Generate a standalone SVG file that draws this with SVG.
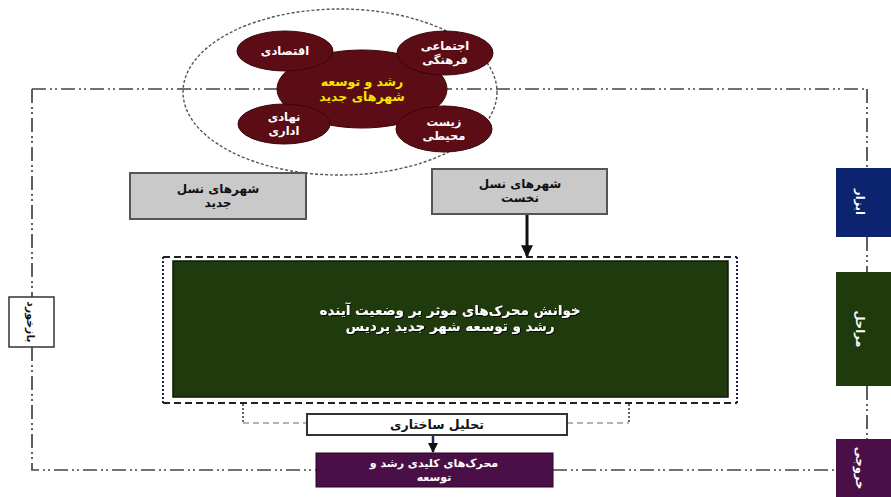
<svg xmlns="http://www.w3.org/2000/svg" width="891" height="497" viewBox="0 0 891 497">
<style>
.fa{font-family:"DejaVu Sans",sans-serif;font-weight:bold;text-anchor:middle;direction:rtl}
.ddot{fill:none;stroke:#444;stroke-width:1.7;stroke-dasharray:14 4 2 3 2 4}
.maroon{fill:#5c0c14;stroke:#3a0508;stroke-width:1}
.wt{fill:#fff;font-size:11.5px}
.gray{fill:#c9c9c9;stroke:#555;stroke-width:2}
.bt{fill:#111;font-size:12px}
</style>
<defs>
<marker id="ah" viewBox="0 0 10 10" refX="9" refY="5" markerWidth="4" markerHeight="4" orient="auto"><path d="M0,0 L10,5 L0,10 z" fill="#111"/></marker>
<filter id="sh" x="-5%" y="-20%" width="110%" height="140%"><feDropShadow dx="1" dy="1" stdDeviation="0.6" flood-color="#000" flood-opacity="0.9"/></filter>
</defs>
<rect width="891" height="497" fill="#fff"/>
<g id="connectors">
<path class="ddot" d="M32,89 H867"/>
<path class="ddot" d="M32,89 V297 M32,347 V470 H316 M553,470 H836"/>
<path class="ddot" d="M867,89 V168 M867,237 V272 M867,386 V439"/>
<path d="M527,214 V256" stroke="#111" stroke-width="3" marker-end="url(#ah)"/>
<path d="M243,404 V423" stroke="#333" stroke-width="1.5" stroke-dasharray="2 2" fill="none"/>
<path d="M243,423 H307" stroke="#999" stroke-width="1.5" stroke-dasharray="6 4" fill="none"/>
<path d="M629,404 V423" stroke="#333" stroke-width="1.5" stroke-dasharray="2 2" fill="none"/>
<path d="M567,423 H629" stroke="#999" stroke-width="1.5" stroke-dasharray="6 4" fill="none"/>
<path d="M433,435 V452" stroke="#1a2a55" stroke-width="2.5" marker-end="url(#ah)"/>
</g>
<g id="cluster">
<ellipse cx="340" cy="92" rx="157" ry="83" fill="none" stroke="#555" stroke-width="1.4" stroke-dasharray="3 2"/>
<ellipse class="maroon" cx="362" cy="89" rx="85" ry="39"/>
<text class="fa" x="362" y="86" font-size="12.5" fill="#f4e800">رشد و توسعه</text>
<text class="fa" x="362" y="101" font-size="12.5" fill="#f4e800">شهرهای جدید</text>
</g>
<g id="n-eqtesadi">
<ellipse class="maroon" cx="285" cy="51" rx="48" ry="20"/>
<text class="fa wt" x="285" y="55">اقتصادی</text>
</g>
<g id="n-ejtemaei">
<ellipse class="maroon" cx="445" cy="53" rx="48" ry="22"/>
<text class="fa wt" x="445" y="50">اجتماعی</text>
<text class="fa wt" x="445" y="64">فرهنگی</text>
</g>
<g id="n-nahadi">
<ellipse class="maroon" cx="284" cy="124" rx="46" ry="20"/>
<text class="fa wt" x="284" y="121">نهادی</text>
<text class="fa wt" x="284" y="135">اداری</text>
</g>
<g id="n-zist">
<ellipse class="maroon" cx="444" cy="129" rx="48" ry="23"/>
<text class="fa wt" x="444" y="126">زیست</text>
<text class="fa wt" x="444" y="140">محیطی</text>
</g>
<g id="n-jadid">
<rect class="gray" x="130" y="173" width="176" height="46"/>
<text class="fa bt" x="218" y="193">شهرهای نسل</text>
<text class="fa bt" x="218" y="207">جدید</text>
</g>
<g id="n-nokhost">
<rect class="gray" x="432" y="169" width="175" height="45"/>
<text class="fa bt" x="520" y="188">شهرهای نسل</text>
<text class="fa bt" x="520" y="202">نخست</text>
</g>
<g id="n-khanesh">
<path d="M163,257 H737 M163,403 H737" stroke="#222" stroke-width="1.8" stroke-dasharray="7 4" fill="none"/>
<path d="M163,257 V403 M737,257 V403" stroke="#1d2450" stroke-width="2" stroke-dasharray="2 2" fill="none"/>
<rect x="173" y="261" width="555" height="136" fill="#1f3a0c" stroke="#0c1a04" stroke-width="1.5"/>
<text class="fa" x="450" y="315" font-size="13.5" fill="#fff" filter="url(#sh)">خوانش محرک‌های موثر بر وضعیت آینده</text>
<text class="fa" x="450" y="331" font-size="13.5" fill="#fff" filter="url(#sh)">رشد و توسعه شهر جدید پردیس</text>
</g>
<g id="n-tahlil">
<rect x="307" y="414" width="260" height="21" fill="#fff" stroke="#333" stroke-width="2"/>
<text class="fa" x="437" y="429" font-size="12.5" fill="#111">تحلیل ساختاری</text>
</g>
<g id="n-moharrek">
<rect x="316" y="453" width="237" height="34" fill="#4b0f47" stroke="#2a0527" stroke-width="1"/>
<text class="fa" x="434" y="467" font-size="11" fill="#fff">محرک‌های کلیدی رشد و</text>
<text class="fa" x="434" y="481" font-size="11" fill="#fff">توسعه</text>
</g>
<g id="n-bazkhord">
<rect x="9" y="297" width="45" height="50" fill="#fff" stroke="#333" stroke-width="1.5"/>
<text class="fa" transform="translate(31,322) rotate(90)" y="4" font-size="11" fill="#111">بازخورد</text>
</g>
<g id="n-abzar">
<rect x="836" y="168" width="60" height="69" fill="#0c2470"/>
<text class="fa wt" transform="translate(860,202) rotate(90)" y="4">ابزار</text>
</g>
<g id="n-marahel">
<rect x="836" y="272" width="60" height="114" fill="#1f3a0c"/>
<text class="fa wt" transform="translate(860,329) rotate(90)" y="4">مراحل</text>
</g>
<g id="n-khoruji">
<rect x="836" y="439" width="60" height="62" fill="#4b0f47"/>
<text class="fa wt" transform="translate(860,468) rotate(90)" y="4">خروجی</text>
</g>
</svg>
